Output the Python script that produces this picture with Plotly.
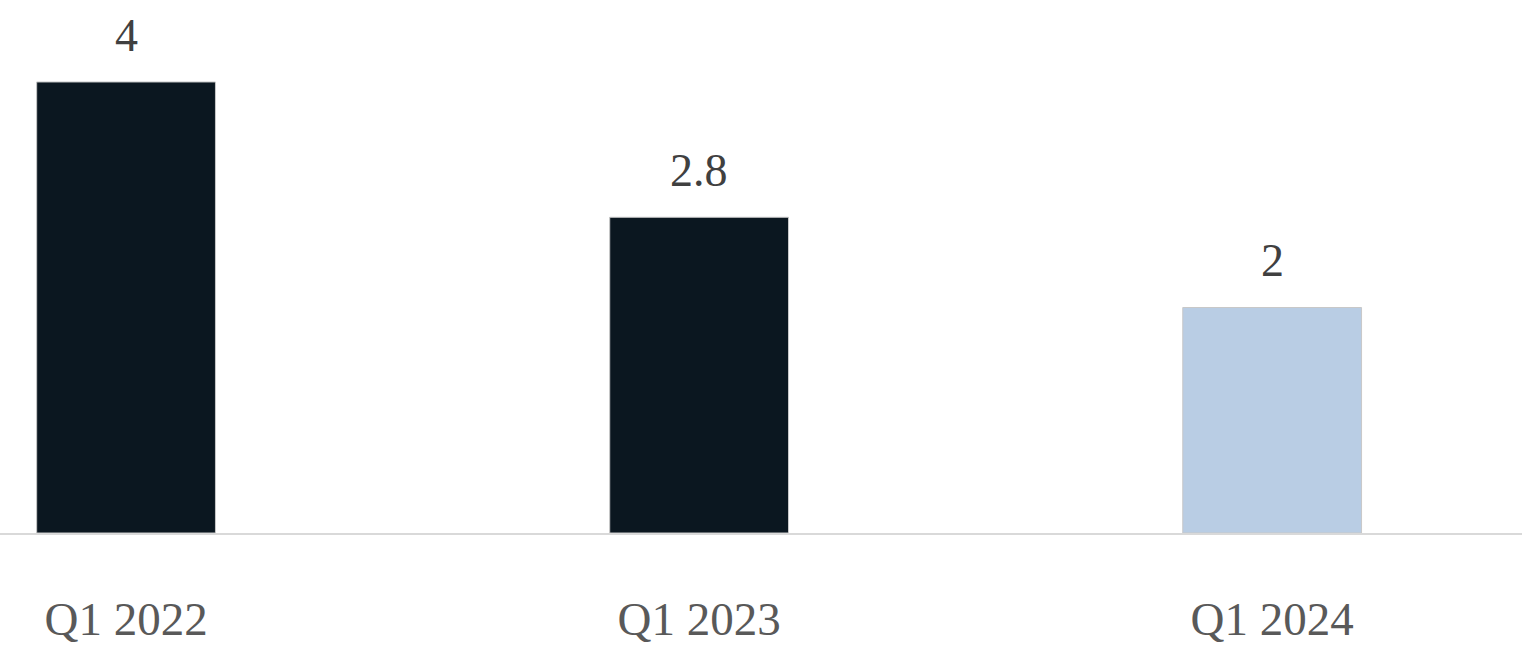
import plotly.graph_objects as go

quarters = ["Q1 2022", "Q1 2023", "Q1 2024"]
values = [4, 2.8, 2]
bar_colors = ["#0b1720", "#0b1720", "#b9cde4"]

fig = go.Figure()
fig.add_trace(go.Bar(
    x=list(range(len(quarters))),
    y=values,
    width=0.312,
    marker=dict(color=bar_colors, line=dict(color="#c8c8c8", width=1)),
    hoverinfo="skip",
))

for i, v in enumerate(values):
    fig.add_annotation(
        x=i, y=v, text=f"{v:g}", showarrow=False,
        yanchor="bottom", yshift=19,
        font=dict(family="Liberation Serif, DejaVu Serif, serif", size=46, color="#404040"),
    )

fig.update_layout(
    width=1522, height=650,
    margin=dict(l=0, r=0, t=0, b=117),
    paper_bgcolor="white", plot_bgcolor="white",
    showlegend=False,
    xaxis=dict(
        range=[-0.22, 2.436],
        tickmode="array", tickvals=list(range(len(quarters))), ticktext=quarters,
        showgrid=False, zeroline=False, automargin=False,
        showline=True, linecolor="#d9d9d9", linewidth=2,
        ticks="", ticklabelstandoff=44,
        tickfont=dict(family="Liberation Serif, DejaVu Serif, serif", size=47, color="#595959"),
    ),
    yaxis=dict(range=[0, 4.727], visible=False, showgrid=False, zeroline=False,
               automargin=False),
)

fig.write_html("out.html")
